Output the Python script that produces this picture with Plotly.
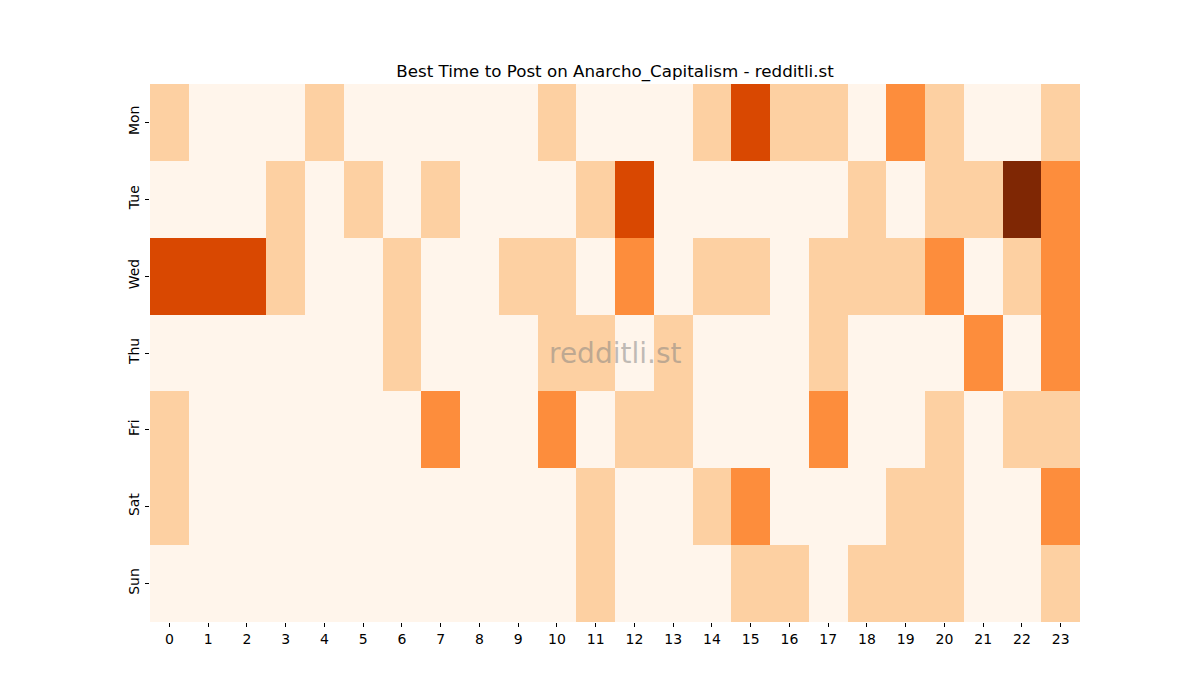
import plotly.graph_objects as go

# posting activity levels (0 = lowest, 4 = highest), rows Mon..Sun, columns hour 0..23
days = ['Mon', 'Tue', 'Wed', 'Thu', 'Fri', 'Sat', 'Sun']
hours = list(range(24))

mon = [1, 0, 0, 0, 1, 0, 0, 0, 0, 0, 1, 0, 0, 0, 1, 3, 1, 1, 0, 2, 1, 0, 0, 1]
tue = [0, 0, 0, 1, 0, 1, 0, 1, 0, 0, 0, 1, 3, 0, 0, 0, 0, 0, 1, 0, 1, 1, 4, 2]
wed = [3, 3, 3, 1, 0, 0, 1, 0, 0, 1, 1, 0, 2, 0, 1, 1, 0, 1, 1, 1, 2, 0, 1, 2]
thu = [0, 0, 0, 0, 0, 0, 1, 0, 0, 0, 1, 1, 0, 1, 0, 0, 0, 1, 0, 0, 0, 2, 0, 2]
fri = [1, 0, 0, 0, 0, 0, 0, 2, 0, 0, 2, 0, 1, 1, 0, 0, 0, 2, 0, 0, 1, 0, 1, 1]
sat = [1, 0, 0, 0, 0, 0, 0, 0, 0, 0, 0, 1, 0, 0, 1, 2, 0, 0, 0, 1, 1, 0, 0, 2]
sun = [0, 0, 0, 0, 0, 0, 0, 0, 0, 0, 0, 1, 0, 0, 0, 1, 1, 0, 1, 1, 1, 0, 0, 1]

z = [mon, tue, wed, thu, fri, sat, sun]

# matplotlib "Oranges"
oranges = [[0.0, '#fff5eb'], [0.25, '#fdd0a2'], [0.5, '#fd8d3c'],
           [0.75, '#d94801'], [1.0, '#7f2704']]

fig = go.Figure(go.Heatmap(
    z=z, x=hours, y=days,
    zmin=0, zmax=4,
    colorscale=oranges,
    showscale=False,
    hoverongaps=False,
))

fig.add_annotation(
    text='redditli.st', x=0.5, y=0.5, xref='paper', yref='paper',
    showarrow=False, font=dict(size=28, color='rgba(128,128,128,0.5)'),
)

# page body adds an 8px offset, so margins are shifted by that amount
fig.update_layout(
    width=1200, height=700,
    margin=dict(l=142, r=128, t=76, b=86),
    paper_bgcolor='white', plot_bgcolor='white',
    font=dict(family='DejaVu Sans', size=14, color='black'),
    title=dict(text='Best Time to Post on Anarcho_Capitalism - redditli.st',
               x=0.5, xanchor='center', xref='paper',
               y=(700 - 69) / 700, yanchor='bottom', yref='container',
               font=dict(size=16.7)),
)
fig.update_xaxes(
    tickmode='array', tickvals=hours, ticktext=[str(h) for h in hours],
    ticks='outside', ticklen=4, tickcolor='black', showgrid=False,
    zeroline=False, showline=False,
)
fig.update_yaxes(
    autorange='reversed', tickangle=-90,
    ticks='outside', ticklen=4, tickcolor='black', showgrid=False,
    zeroline=False, showline=False,
)

fig.write_html("out.html")
